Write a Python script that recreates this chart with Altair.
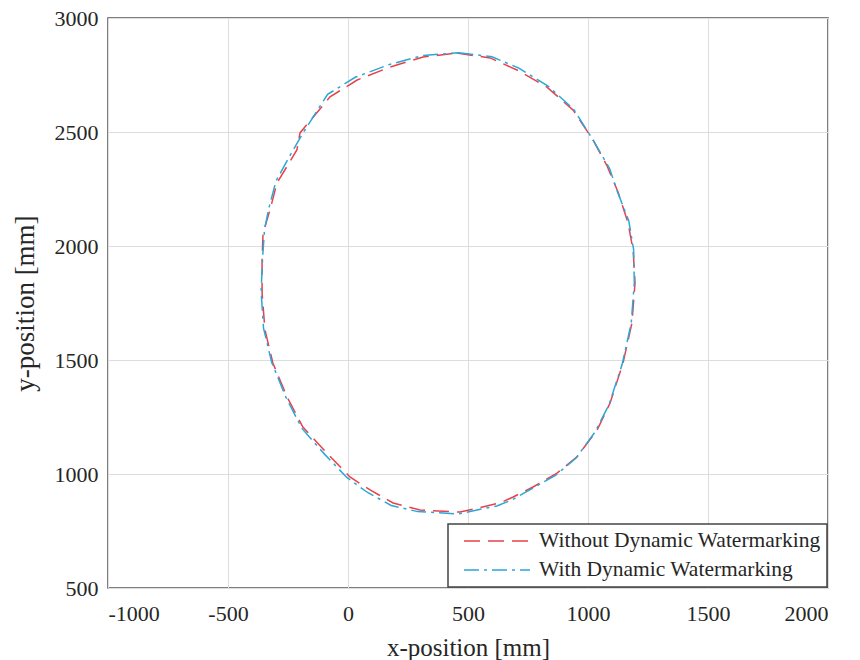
import altair as alt
import pandas as pd

series_names = ["Without Dynamic Watermarking", "With Dynamic Watermarking"]
series_colors = ["#e8414b", "#2aa7d6"]

x_ticks = [-1000, -500, 0, 500, 1000, 1500, 2000]
y_ticks = [500, 1000, 1500, 2000, 2500, 3000]

x_without = [454, 592, 704, 829, 938, 1021, 1080, 1125, 1167, 1188, 1196, 1183, 1146, 1092,
             1038, 954, 871, 771, 688, 633, 467, 300, 188, 92, 8, -88, -188, -254, -313,
             -346, -358, -358, -354, -325, -296, -213, -200, -75, 38, 175, 313, 454]
y_without = [2846, 2825, 2772, 2697, 2596, 2465, 2350, 2237, 2101, 1982, 1838, 1662, 1487, 1311,
             1193, 1075, 1004, 943, 899, 873, 833, 842, 873, 930, 987, 1092, 1206, 1338, 1487,
             1632, 1794, 1939, 2057, 2158, 2276, 2421, 2496, 2654, 2728, 2785, 2829, 2846]

x_with = [460, 600, 712, 835, 940, 1018, 1090, 1122, 1170, 1190, 1193, 1180, 1142, 1088,
          1030, 950, 866, 765, 680, 620, 460, 290, 180, 80, -5, -96, -192, -258, -318,
          -352, -362, -356, -348, -330, -300, -240, -185, -85, 30, 170, 310, 460]
y_with = [2848, 2830, 2780, 2700, 2600, 2470, 2340, 2240, 2110, 1985, 1840, 1660, 1480, 1305,
          1185, 1070, 995, 935, 885, 860, 825, 835, 862, 920, 985, 1085, 1200, 1335, 1490,
          1640, 1800, 1945, 2070, 2165, 2285, 2400, 2500, 2665, 2740, 2795, 2835, 2848]

rows = []
for name, xs, ys in [(series_names[0], x_without, y_without), (series_names[1], x_with, y_with)]:
    for i, (xv, yv) in enumerate(zip(xs, ys)):
        rows.append({"series": name, "x": xv, "y": yv, "i": i})
df = pd.DataFrame(rows)

font = "Liberation Serif"

chart = alt.Chart(df).mark_line(strokeWidth=1.5).encode(
    x=alt.X("x:Q",
            scale=alt.Scale(domain=[-1000, 2000], nice=False),
            axis=alt.Axis(values=x_ticks, title="x-position [mm]", labelExpr="'' + datum.value",
                          labelPadding=15, titlePadding=11, titleFontSize=25)),
    y=alt.Y("y:Q",
            scale=alt.Scale(domain=[500, 3000], nice=False, zero=False),
            axis=alt.Axis(values=y_ticks, title="y-position [mm]", labelExpr="'' + datum.value",
                          labelPadding=10, titlePadding=15, titleFontSize=27)),
    color=alt.Color("series:N",
                    scale=alt.Scale(domain=series_names, range=series_colors),
                    legend=alt.Legend(title=None)),
    strokeDash=alt.StrokeDash("series:N",
                              scale=alt.Scale(domain=series_names, range=[[16, 8], [15, 5, 3, 5]]),
                              legend=alt.Legend(title=None)),
    order=alt.Order("i:Q"),
).properties(
    width=720,
    height=570,
    autosize=alt.AutoSizeParams(type="none"),
    padding={"left": 108, "top": 18, "right": 32, "bottom": 72},
).configure_view(
    stroke="#555555", strokeWidth=1.5
).configure_axis(
    grid=True, gridColor="#dddddd", gridWidth=1,
    domain=False, ticks=False,
    labelFont=font, labelFontSize=22, labelColor="#262626",
    titleFont=font, titleColor="#262626", titleFontWeight="normal",
).configure_legend(
    orient="bottom-right", offset=1,
    fillColor="white", strokeColor="#444444", strokeWidth=1.5,
    padding=6, rowPadding=7,
    symbolType="M-3.3,0L3.3,0", symbolSize=400, symbolStrokeWidth=1.5,
    symbolOffset=32, labelOffset=31,
    labelFont=font, labelFontSize=21.5, labelColor="#262626", labelLimit=400,
)

chart.save("out.html", embed_options={"renderer": "svg", "actions": False})
